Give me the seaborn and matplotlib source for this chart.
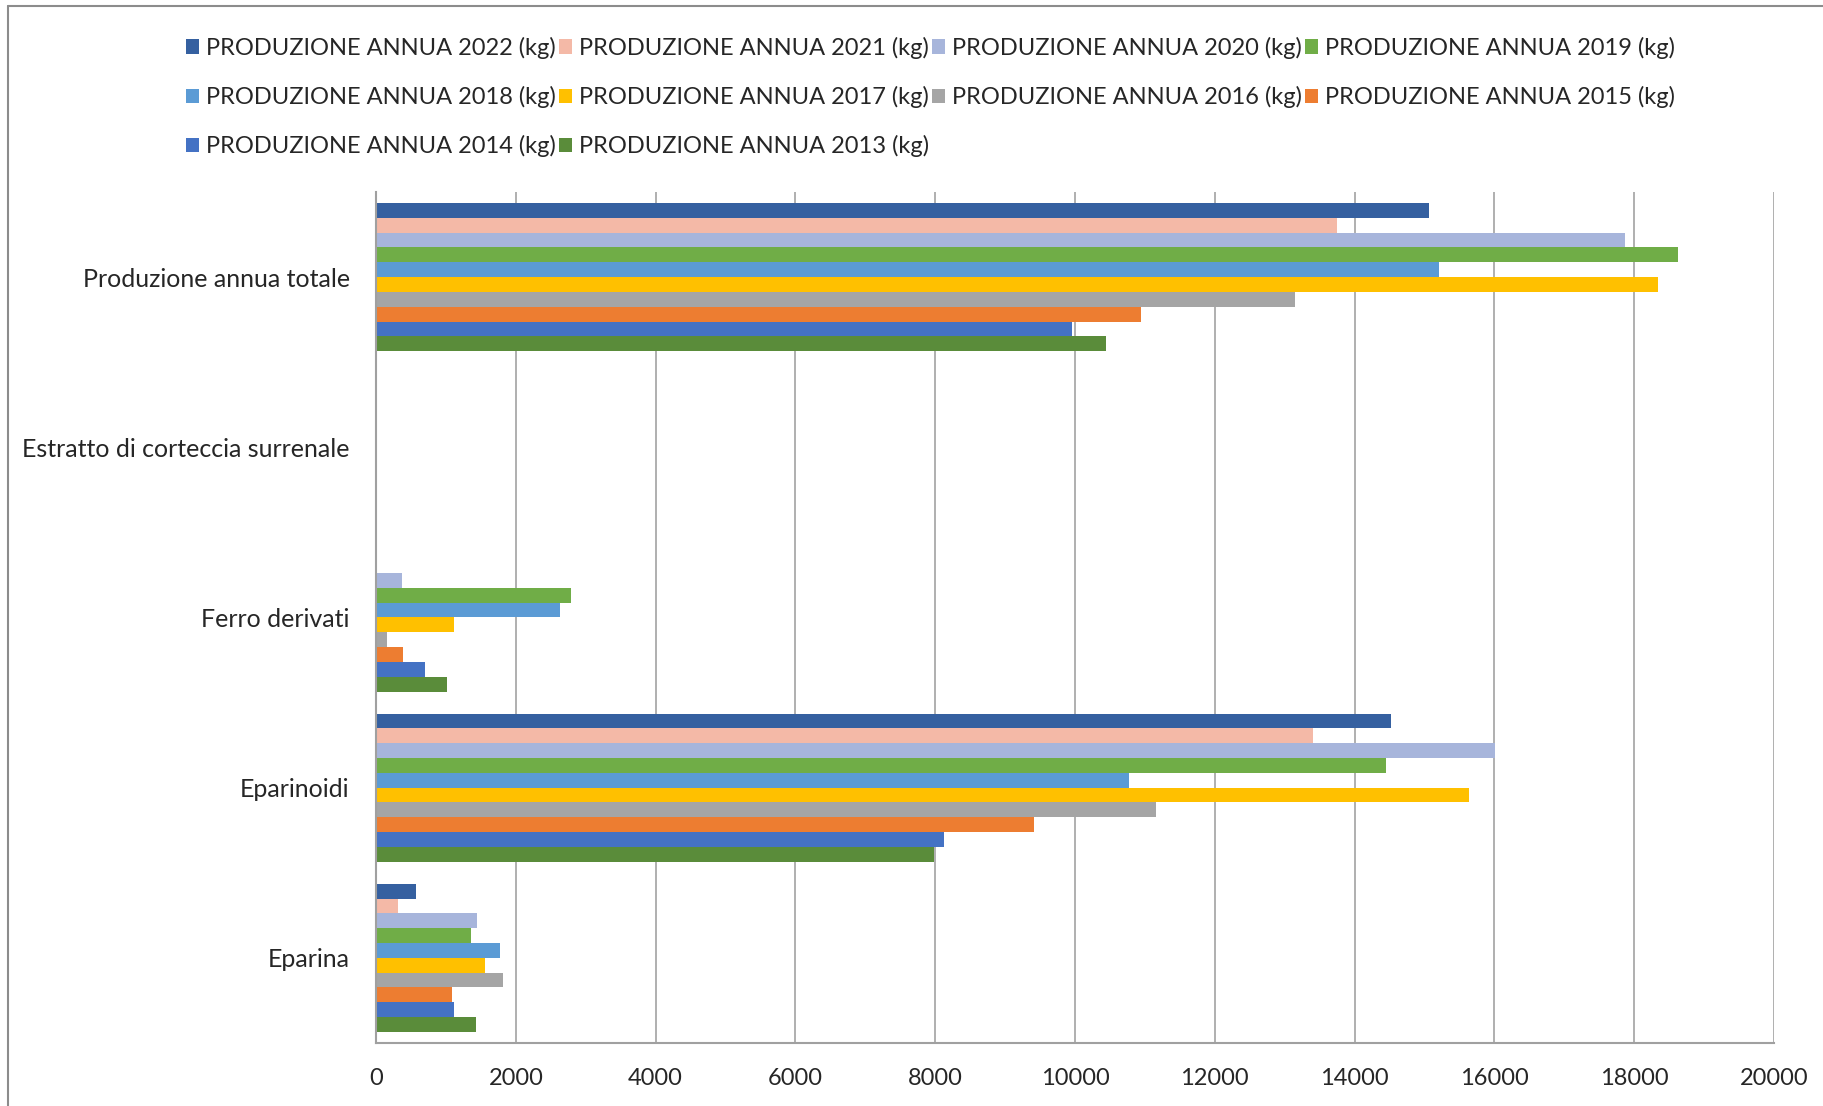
import pandas as pd
import seaborn as sns
import matplotlib.pyplot as plt
from matplotlib.patches import Patch
from matplotlib.lines import Line2D

# Dati
categorie = ['Produzione annua totale', 'Estratto di corteccia surrenale',
             'Ferro derivati', 'Eparinoidi', 'Eparina']
anni = ['2022', '2021', '2020', '2019', '2018', '2017', '2016', '2015', '2014', '2013']

p2022 = [15070, 0, 0, 14520, 570]
p2021 = [13750, 0, 0, 13410, 310]
p2020 = [17870, 0, 370, 16010, 1450]
p2019 = [18620, 0, 2790, 14450, 1360]
p2018 = [15210, 0, 2630, 10770, 1770]
p2017 = [18340, 0, 1120, 15630, 1560]
p2016 = [13150, 0, 160, 11160, 1820]
p2015 = [10940, 0, 390, 9420, 1090]
p2014 = [9960, 0, 700, 8130, 1110]
p2013 = [10440, 0, 1010, 7980, 1430]

serie = [p2022, p2021, p2020, p2019, p2018, p2017, p2016, p2015, p2014, p2013]
colori = ['#3560A0', '#F4B9A7', '#A7B5DB', '#70AD47', '#5B9BD5',
          '#FFC000', '#A5A5A5', '#ED7D31', '#4472C4', '#5A8C3A']

etichette = ['PRODUZIONE ANNUA %s (kg)' % a for a in anni]

# Tabella in formato lungo
righe = []
for et, valori in zip(etichette, serie):
    for cat, v in zip(categorie, valori):
        righe.append({'categoria': cat, 'serie': et, 'kg': v})
df = pd.DataFrame(righe)

sns.set_style('white')
plt.rcParams['font.family'] = ['Lato', 'DejaVu Sans']

fig = plt.figure(figsize=(18.23, 11.06), dpi=100)
ax = fig.add_axes([0.2063, 0.0570, 0.7668, 0.7694])

sns.barplot(data=df, y='categoria', x='kg', hue='serie', order=categorie,
            hue_order=etichette, palette=dict(zip(etichette, colori)),
            orient='h', width=0.87, linewidth=0, saturation=1, ax=ax,
            legend=False)

ax.set_xlim(0, 20000)
ax.set_ylim(4.5, -0.5)
ax.set_xticks(range(0, 20001, 2000))
ax.set_xlabel('')
ax.set_ylabel('')
ax.xaxis.grid(True, color='#9a9a9a', linewidth=1.1)
ax.yaxis.grid(False)
ax.set_axisbelow(True)

for s in ['top', 'right']:
    ax.spines[s].set_visible(False)
for s in ['left', 'bottom']:
    ax.spines[s].set_color('#a0a0a0')
    ax.spines[s].set_linewidth(1.5)

ax.set_yticks([-0.5, 0.5, 1.5, 2.5, 3.5, 4.5], minor=True)
ax.tick_params(axis='y', which='major', length=0, pad=19, labelsize=18, labelcolor='#262626')
ax.tick_params(axis='y', which='minor', length=7, width=1.2, color='#a0a0a0', direction='out')
ax.tick_params(axis='x', which='major', length=6, width=1.2, color='#a0a0a0',
               direction='out', pad=12, labelsize=17, labelcolor='#262626')

# Legenda su tre righe, ordinata per righe
ordine = [0, 4, 8, 1, 5, 9, 2, 6, 3, 7]
maniglie = [Patch(facecolor=colori[i], edgecolor='none') for i in ordine]
fig.legend(maniglie, [etichette[i] for i in ordine], ncol=4, loc='upper left',
           bbox_to_anchor=(0.0905, 0.986), frameon=False, fontsize=17,
           handlelength=0.55, handleheight=0.55, handletextpad=0.3,
           columnspacing=0.12, labelspacing=1.15, labelcolor='#262626')

# Bordo dell'area del grafico
fig.add_artist(Line2D([0.0044, 1.0], [0.9946, 0.9946], color='#8c8c8c', linewidth=1.5))
fig.add_artist(Line2D([0.0044, 0.0044], [0.0, 0.9946], color='#8c8c8c', linewidth=1.5))

fig.savefig('out.png', dpi=100)
